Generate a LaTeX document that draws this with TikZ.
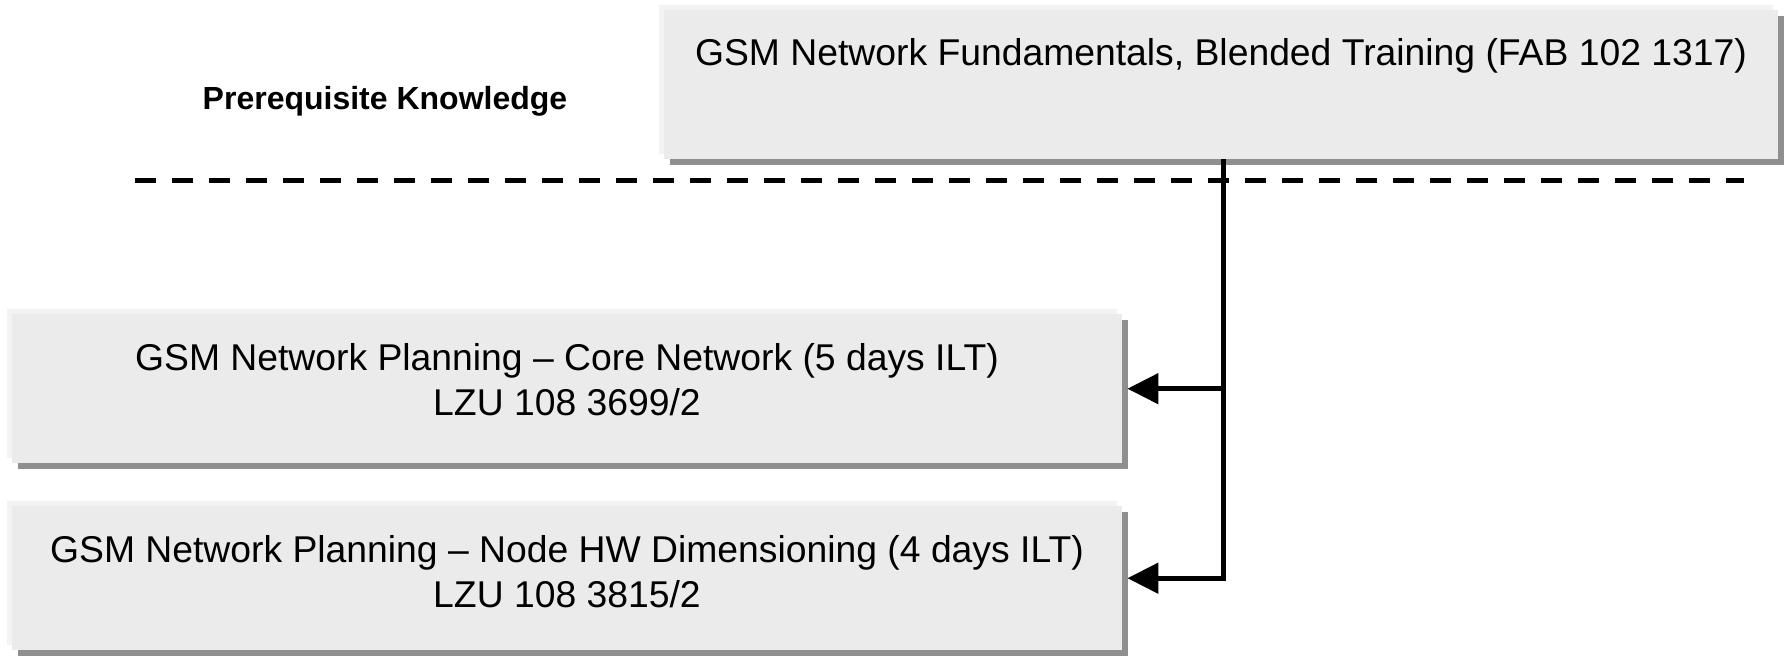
\documentclass[tikz,border=0pt]{standalone}
\usepackage{fontspec}
\setmainfont{Liberation Sans}
\usetikzlibrary{arrows.meta,shadows}
\definecolor{boxfill}{HTML}{EBEBEB}
\definecolor{boxlight}{HTML}{F3F3F3}
\definecolor{boxshadow}{HTML}{8F8F8F}
\begin{document}
\begin{tikzpicture}[x=1pt,y=-1pt,
  coursebox/.style={draw=none, fill=boxfill, rectangle, inner sep=0pt, anchor=north west,
    general shadow={fill=boxshadow, shadow xshift=6pt, shadow yshift=-6pt},
    general shadow={fill=boxlight, shadow xshift=-5pt, shadow yshift=5pt}},
  coursetext/.style={font=\fontsize{37.3}{44}\selectfont, anchor=base, inner sep=0pt},
  labeltext/.style={font=\fontsize{32}{38}\selectfont\bfseries, anchor=base, inner sep=0pt},
  divider/.style={line width=5pt, dash pattern=on 21pt off 16pt},
  conn/.style={line width=5pt, line join=miter},
  arr/.style={conn, -{Triangle[length=31pt,width=30pt]}}]
\useasboundingbox (0,0) rectangle (1786,656);
% boxes
\node[coursebox, minimum width=1114pt, minimum height=149pt] (top) at (664,10) {};
\node[coursebox, minimum width=1110pt, minimum height=149pt] (up) at (12,314) {};
\node[coursebox, minimum width=1110pt, minimum height=144pt] (low) at (12,506) {};
% texts
\node[coursetext] (ttop) at (1221,65) {GSM Network Fundamentals, Blended Training (FAB 102 1317)};
\node[coursetext] (tup1) at (567,370) {GSM Network Planning – Core Network (5 days ILT)};
\node[coursetext] (tup2) at (567,415) {LZU 108 3699/2};
\node[coursetext] (tlow1) at (567,562) {GSM Network Planning – Node HW Dimensioning (4 days ILT)};
\node[coursetext] (tlow2) at (567,607) {LZU 108 3815/2};
\node[labeltext] (prereq) at (385,109) {Prerequisite Knowledge};
% divider
\coordinate (dl) at (135,180);
\coordinate (dr) at (1744,180);
\draw[divider] (dl) -- (dr);
% connectors
\coordinate (vx) at ([xshift=2pt]top.south);
\draw[arr] (vx) -- (vx |- low.east) -- ([xshift=5pt]low.east);
\draw[arr] (vx |- up.east) -- ([xshift=5pt]up.east);
\end{tikzpicture}
\end{document}
